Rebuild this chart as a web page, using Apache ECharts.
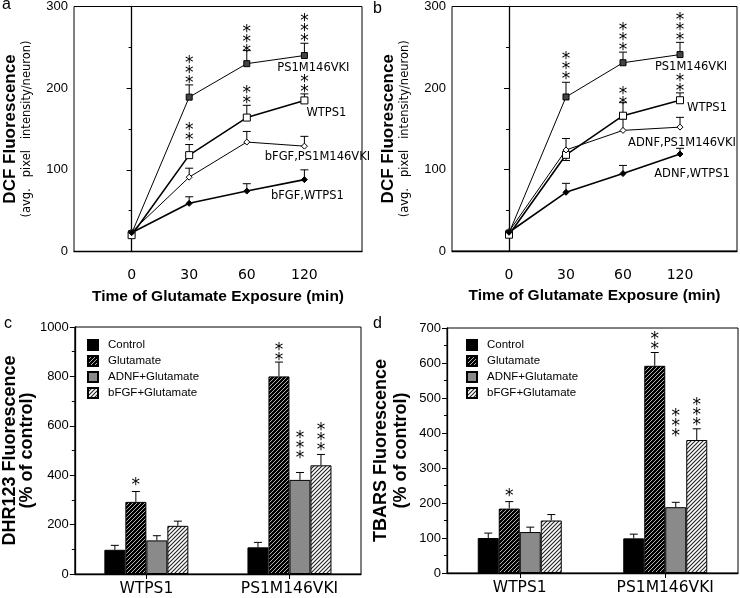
<!DOCTYPE html>
<html><head><meta charset="utf-8">
<script src="https://cdn.jsdelivr.net/npm/echarts@6/dist/echarts.min.js"></script>
<style>html,body{margin:0;padding:0;background:#fff}#c{width:740px;height:598px}</style>
</head><body><div id="c"></div>
<script>
// ---------- data ----------
const timeLabels = ['0', '30', '60', '120'];

// panel a
const aPS1 = [22, 189, 230, 240];
const aPS1Err = [0, 15, 16, 15];
const aWT = [20, 118, 164, 185];
const aWTErr = [0, 13, 15, 8];
const aBfgfPS1 = [24, 91, 134, 129];
const aBfgfPS1Err = [0, 11, 13, 12];
const aBfgfWT = [23, 59, 74, 88];
const aBfgfWTErr = [0, 8, 9, 12];
const aStars = [[1, 210, 3], [2, 249, 3], [3, 262, 3], [1, 141, 2], [2, 186, 2], [3, 200, 2]];

// panel b
const bPS1 = [22, 189, 231, 241];
const bPS1Err = [0, 18, 13, 15];
const bWT = [20, 118, 166, 185];
const bWTErr = [0, -7, 16, 9];
const bAdnfPS1 = [24, 124, 148, 152];
const bAdnfPS1Err = [0, 14, 14, 12];
const bAdnfWT = [23, 72, 95, 119];
const bAdnfWTErr = [0, 11, 10, 7];
const bStars = [[1, 215, 3], [2, 251, 3], [3, 263, 3], [2, 184, 2], [3, 200, 2]];

// panels c, d
const groups = ['WTPS1', 'PS1M146VKI'];
const barNames = ['Control', 'Glutamate', 'ADNF+Glutamate', 'bFGF+Glutamate'];
const cControl = [98, 108];   const cControlErr = [18, 20];
const cGlut = [292, 800];     const cGlutErr = [42, 58];
const cAdnf = [136, 381];     const cAdnfErr = [19, 30];
const cBfgf = [195, 440];     const cBfgfErr = [19, 44];
const cStars = [[0, 376, 1, 1], [1, 881, 2, 1], [1, 485, 3, 2], [1, 517, 3, 3]];

const dControl = [100, 99];   const dControlErr = [14, 12];
const dGlut = [184, 592];     const dGlutErr = [20, 38];
const dAdnf = [117, 188];     const dAdnfErr = [14, 14];
const dBfgf = [150, 380];     const dBfgfErr = [17, 32];
const dStars = [[0, 229, 1, 1], [1, 649, 2, 1], [1, 400, 3, 2], [1, 434, 3, 3]];

// ---------- style helpers ----------
const BAR_W = 21;
const STAR_SHIFT = 4;
function hatch(bg, fg, size, lw) {
  const c = document.createElement('canvas');
  c.width = c.height = size;
  const g = c.getContext('2d');
  g.fillStyle = bg; g.fillRect(0, 0, size, size);
  g.strokeStyle = fg; g.lineWidth = lw;
  g.beginPath();
  g.moveTo(0, size); g.lineTo(size, 0);
  g.moveTo(-size / 2, size / 2); g.lineTo(size / 2, -size / 2);
  g.moveTo(size / 2, size * 1.5); g.lineTo(size * 1.5, size / 2);
  g.stroke();
  return c;
}
const glutPattern = { image: hatch('#000', '#fff', 4, 0.7), repeat: 'repeat' };
const bfgfPattern = { image: hatch('#fff', '#222', 4, 1.1), repeat: 'repeat' };
const barColors = ['#000', glutPattern, '#8a8a8a', bfgfPattern];

const axisFont = { fontFamily: 'Liberation Sans', fontSize: 13, color: '#000' };
const axisLine = { show: true, lineStyle: { color: '#000', width: 1.3 } };

function lineSeries(name, values, idx, symbol, fill, size, width, labelOffset) {
  return {
    type: 'line', name, xAxisIndex: idx, yAxisIndex: idx,
    symbol, symbolSize: size, z: 5,
    lineStyle: { color: '#000', width },
    itemStyle: { color: fill, borderColor: '#000', borderWidth: 1 },
    data: values.map((v, i) => i === values.length - 1 ? {
      value: [i, v],
      label: { show: true, position: 'inside', offset: labelOffset, formatter: name,
        fontFamily: 'DejaVu Sans', fontSize: 11.5, color: '#000' }
    } : [i, v])
  };
}
function lineErr(values, errs, idx) {
  return {
    type: 'custom', xAxisIndex: idx, yAxisIndex: idx, z: 3, silent: true,
    data: values.map((v, i) => [i, v, errs[i]]),
    renderItem: (params, api) => {
      const e = api.value(2);
      if (!e) return null;
      const p0 = api.coord([api.value(0), api.value(1)]);
      const p1 = api.coord([api.value(0), api.value(1) + e]);
      return { type: 'group', children: [
        { type: 'line', shape: { x1: p0[0], y1: p0[1], x2: p1[0], y2: p1[1] }, style: { stroke: '#000', lineWidth: 1 } },
        { type: 'line', shape: { x1: p1[0] - 4, y1: p1[1], x2: p1[0] + 4, y2: p1[1] }, style: { stroke: '#000', lineWidth: 1 } }
      ]};
    }
  };
}
function barErr(values, errs, k, idx) {
  return {
    type: 'custom', xAxisIndex: idx, yAxisIndex: idx, z: 6, silent: true,
    data: values.map((v, i) => [i, v, errs[i]]),
    renderItem: (params, api) => {
      const off = (k - 1.5) * BAR_W;
      const p0 = api.coord([api.value(0), api.value(1)]);
      const p1 = api.coord([api.value(0), api.value(1) + api.value(2)]);
      const x = p0[0] + off;
      return { type: 'group', children: [
        { type: 'line', shape: { x1: x, y1: p0[1], x2: x, y2: p1[1] }, style: { stroke: '#000', lineWidth: 1 } },
        { type: 'line', shape: { x1: x - 4, y1: p1[1], x2: x + 4, y2: p1[1] }, style: { stroke: '#000', lineWidth: 1 } }
      ]};
    }
  };
}
function stars(rows, idx) {
  return {
    type: 'custom', xAxisIndex: idx, yAxisIndex: idx, z: 8, silent: true,
    data: rows,
    renderItem: (params, api) => {
      const k = rows[params.dataIndex][3];
      const off = (k === undefined) ? 0 : (k - 1.5) * BAR_W;
      const p = api.coord([api.value(0), api.value(1)]);
      const n = api.value(2);
      const children = [];
      for (let i = 0; i < n; i++) {
        children.push({ type: 'text', x: p[0] + off, y: p[1] - i * 10 + STAR_SHIFT,
          style: { text: '*', fontFamily: 'DejaVu Sans', fontSize: 17, fill: '#000',
            align: 'center', verticalAlign: 'middle' } });
      }
      return { type: 'group', children };
    }
  };
}
function barSeries(vals, k, idx) {
  return {
    type: 'bar', name: barNames[k], xAxisIndex: idx, yAxisIndex: idx,
    barWidth: BAR_W, barGap: '0%', z: 4,
    itemStyle: { color: barColors[k], borderColor: '#000', borderWidth: 1 },
    data: vals
  };
}

function timeAxis(idx) {
  return {
    type: 'value', gridIndex: idx, min: -1, max: 4, interval: 1,
    axisLine, axisTick: { show: false }, splitLine: { show: false },
    axisLabel: { formatter: v => (timeLabels[v] !== undefined ? timeLabels[v] : ''),
      fontFamily: 'DejaVu Sans', fontSize: 14, color: '#000', margin: 17 },
    name: 'Time of Glutamate Exposure (min)', nameLocation: 'middle', nameGap: 37,
    nameTextStyle: { fontFamily: 'Liberation Sans', fontWeight: 'bold', fontSize: 15.5, color: '#000' }
  };
}
function valueAxis(idx, max, interval, name, rich, nameGap) {
  return {
    type: 'value', gridIndex: idx, min: 0, max, interval,
    axisLine, splitLine: { show: false },
    axisTick: { show: true, length: 5, lineStyle: { color: '#000' } },
    minorTick: { show: true, splitNumber: 2, length: 3, lineStyle: { color: '#000' } },
    axisLabel: Object.assign({ margin: 6, formatter: v => String(v) }, axisFont),
    name, nameLocation: 'middle', nameRotate: 90, nameGap,
    nameTextStyle: { color: '#000', rich }
  };
}
const richDCF = {
  t: { fontFamily: 'Liberation Sans', fontWeight: 'bold', fontSize: 17, lineHeight: 20, color: '#000' },
  s: { fontFamily: 'DejaVu Sans', fontSize: 11.5, lineHeight: 14, color: '#000' }
};
const dcfName = '{t|DCF Fluorescence}\n{s|(avg.   pixel   intensity/neuron)}';
const richBar = (lh) => ({ t: { fontFamily: 'Liberation Sans', fontWeight: 'bold', fontSize: 18, lineHeight: lh, color: '#000' } });
function catAxis(idx) {
  return {
    type: 'category', gridIndex: idx, data: groups,
    axisLine, splitLine: { show: false },
    axisTick: { show: true, alignWithLabel: true, length: 5, lineStyle: { color: '#000' } },
    axisLabel: { fontFamily: 'DejaVu Sans', fontSize: 15.5, color: '#000', margin: 7 }
  };
}
const legendBase = {
  data: barNames, orient: 'vertical', itemWidth: 10, itemHeight: 10, itemGap: 4,
  icon: 'rect', selectedMode: false,
  textStyle: { fontFamily: 'Liberation Sans', fontSize: 11.5, color: '#000', padding: [0, 0, 0, 5] }
};

const gridBase = { show: true, borderColor: '#000', borderWidth: 1, backgroundColor: 'transparent' };
const option = {
  animation: false,
  backgroundColor: '#fff',
  grid: [
    Object.assign({ left: 74, top: 5.5, width: 288, height: 246 }, gridBase),
    Object.assign({ left: 452, top: 5, width: 286, height: 246 }, gridBase),
    Object.assign({ left: 70, top: 327, width: 291, height: 247 }, gridBase),
    Object.assign({ left: 447, top: 328, width: 291, height: 245 }, gridBase)
  ],
  xAxis: [timeAxis(0), timeAxis(1), catAxis(2), catAxis(3)],
  yAxis: [
    valueAxis(0, 300, 100, dcfName, richDCF, 40),
    valueAxis(1, 300, 100, dcfName, richDCF, 40),
    valueAxis(2, 1000, 200, '{t|DHR123 Fluorescence}\n{t|(% of control)}', richBar(17), 33),
    valueAxis(3, 700, 100, '{t|TBARS Fluorescence}\n{t|(% of control)}', richBar(20), 36)
  ],
  legend: [
    Object.assign({ left: 82, top: 334 }, legendBase),
    Object.assign({ left: 461, top: 334 }, legendBase)
  ],
  graphic: [
    { type: 'text', left: 2, top: -3, style: { text: 'a', fontFamily: 'Liberation Sans', fontSize: 16, fill: '#000' } },
    { type: 'text', left: 373, top: 1, style: { text: 'b', fontFamily: 'Liberation Sans', fontSize: 16, fill: '#000' } },
    { type: 'text', left: 4, top: 316, style: { text: 'c', fontFamily: 'Liberation Sans', fontSize: 16, fill: '#000' } },
    { type: 'text', left: 373, top: 316, style: { text: 'd', fontFamily: 'Liberation Sans', fontSize: 16, fill: '#000' } }
  ],
  series: [
    lineErr(aPS1, aPS1Err, 0), lineErr(aWT, aWTErr, 0), lineErr(aBfgfPS1, aBfgfPS1Err, 0), lineErr(aBfgfWT, aBfgfWTErr, 0),
    lineSeries('PS1M146VKI', aPS1, 0, 'rect', '#444', 6, 1, [9, 13]),
    lineSeries('WTPS1', aWT, 0, 'rect', '#fff', 7, 1.6, [22, 13]),
    lineSeries('bFGF,PS1M146VKI', aBfgfPS1, 0, 'diamond', '#fff', 6, 1, [13, 11]),
    lineSeries('bFGF,WTPS1', aBfgfWT, 0, 'diamond', '#000', 6, 1.6, [3, 16]),
    stars(aStars, 0),

    lineErr(bPS1, bPS1Err, 1), lineErr(bWT, bWTErr, 1), lineErr(bAdnfPS1, bAdnfPS1Err, 1), lineErr(bAdnfWT, bAdnfWTErr, 1),
    lineSeries('PS1M146VKI', bPS1, 1, 'rect', '#444', 6, 1, [11, 12]),
    lineSeries('WTPS1', bWT, 1, 'rect', '#fff', 7, 1.6, [27, 8]),
    lineSeries('ADNF,PS1M146VKI', bAdnfPS1, 1, 'diamond', '#fff', 6, 1, [2, 16]),
    lineSeries('ADNF,WTPS1', bAdnfWT, 1, 'diamond', '#000', 6, 1.6, [12, 20]),
    stars(bStars, 1),

    barSeries(cControl, 0, 2), barSeries(cGlut, 1, 2), barSeries(cAdnf, 2, 2), barSeries(cBfgf, 3, 2),
    barErr(cControl, cControlErr, 0, 2), barErr(cGlut, cGlutErr, 1, 2), barErr(cAdnf, cAdnfErr, 2, 2), barErr(cBfgf, cBfgfErr, 3, 2),
    stars(cStars, 2),

    barSeries(dControl, 0, 3), barSeries(dGlut, 1, 3), barSeries(dAdnf, 2, 3), barSeries(dBfgf, 3, 3),
    barErr(dControl, dControlErr, 0, 3), barErr(dGlut, dGlutErr, 1, 3), barErr(dAdnf, dAdnfErr, 2, 3), barErr(dBfgf, dBfgfErr, 3, 3),
    stars(dStars, 3)
  ]
};
const chart = echarts.init(document.getElementById('c'), null, { renderer: 'canvas' });
chart.setOption(option);
</script>
</body></html>
